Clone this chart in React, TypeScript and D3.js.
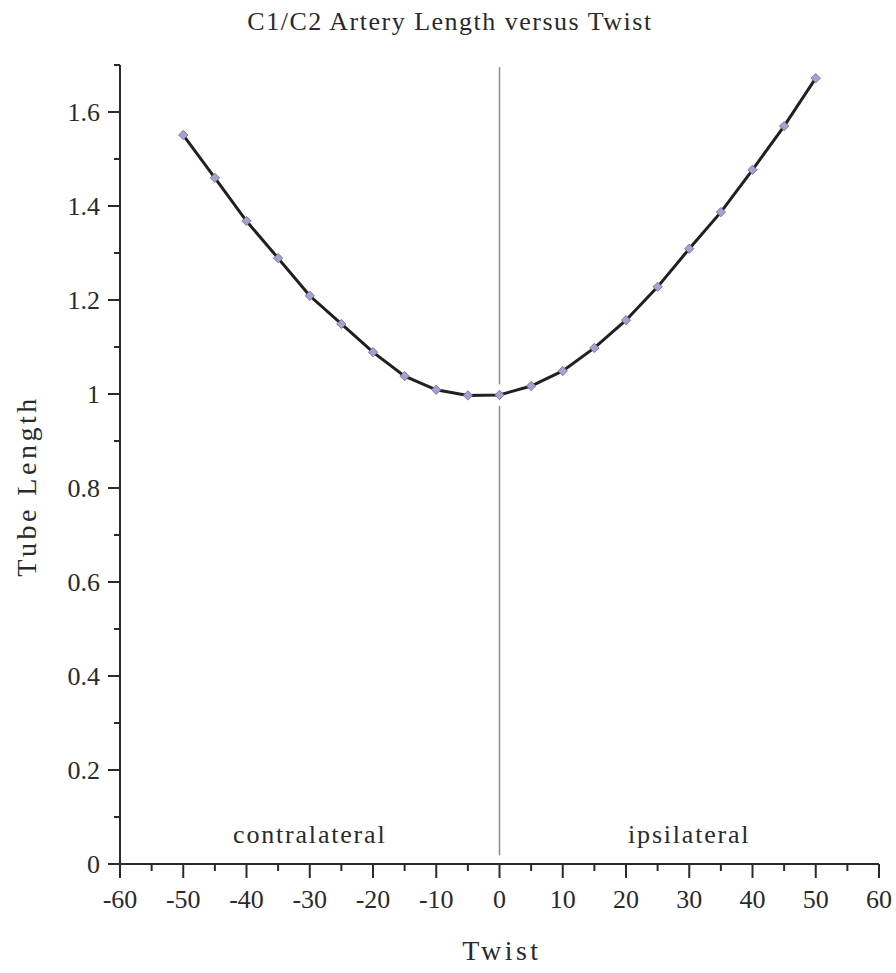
import React from 'react';
import * as d3 from 'd3';

const twist = [-50, -45, -40, -35, -30, -25, -20, -15, -10, -5, 0, 5, 10, 15, 20, 25, 30, 35, 40, 45, 50];
const tubeLength = [1.551, 1.46, 1.368, 1.289, 1.209, 1.149, 1.089, 1.038, 1.009, 0.997, 0.998, 1.017, 1.049, 1.098, 1.157, 1.228, 1.309, 1.387, 1.477, 1.57, 1.672];
const xTicks = [-60, -50, -40, -30, -20, -10, 0, 10, 20, 30, 40, 50, 60];
const yTicks = [0, 0.2, 0.4, 0.6, 0.8, 1, 1.2, 1.4, 1.6];
// divider at twist = 0, broken where it meets the curve
const dividerSpans = [[1.695, 1.02], [0.975, 0.018]];
const regionLabels = [
  { text: 'contralateral', x: -30 },
  { text: 'ipsilateral', x: 30 },
];

const W = 896;
const H = 973;
const margin = { top: 65, right: 17, bottom: 109, left: 120 };
const FONT = '"Liberation Serif", "DejaVu Serif", serif';
const INK = '#2a2a2a';

export default function App() {
  const innerW = W - margin.left - margin.right;
  const innerH = H - margin.top - margin.bottom;

  const x = d3.scaleLinear().domain([-60, 60]).range([0, innerW]);
  const y = d3.scaleLinear().domain([0, 1.7]).range([innerH, 0]);

  const points = twist.map((t, i) => ({ t, v: tubeLength[i] }));
  const line = d3.line<{ t: number; v: number }>().x(d => x(d.t)).y(d => y(d.v));

  const xMinor = d3.range(-55, 60, 10);
  const yMinor = d3.range(0.1, 1.71, 0.2);

  return (
    <svg width={W} height={H} style={{ display: 'block', position: 'absolute', left: 0, top: 0, background: '#fff' }}>
      <text x={450} y={30} textAnchor="middle" fontFamily={FONT} fontSize={26} fill={INK} letterSpacing={1.5}>
        C1/C2 Artery Length versus Twist
      </text>
      <g transform={`translate(${margin.left},${margin.top})`}>
        {/* divider */}
        {dividerSpans.map(([a, b], i) => (
          <line key={i} x1={x(0)} x2={x(0)} y1={y(a)} y2={y(b)} stroke="#8a8a8a" strokeWidth={1.5} />
        ))}

        {/* region labels */}
        {regionLabels.map(r => (
          <text key={r.text} x={x(r.x)} y={y(0.045)} textAnchor="middle" fontFamily={FONT} fontSize={26} fill={INK} letterSpacing={1.8}>
            {r.text}
          </text>
        ))}

        {/* curve */}
        <path d={line(points) || ''} fill="none" stroke="#231f20" strokeWidth={3} />
        {points.map(p => (
          <rect key={p.t} x={-3.3} y={-3.3} width={6.6} height={6.6}
            transform={`translate(${x(p.t)},${y(p.v)}) rotate(45)`}
            fill="#a3a3cf" stroke="#6e6e96" strokeWidth={0.8} />
        ))}

        {/* x axis */}
        <line x1={0} x2={innerW} y1={innerH} y2={innerH} stroke={INK} strokeWidth={2} />
        {xTicks.map(t => (
          <g key={t} transform={`translate(${x(t)},${innerH})`}>
            <line y1={0} y2={14} stroke={INK} strokeWidth={2} />
            <text y={44} textAnchor="middle" fontFamily={FONT} fontSize={26} fill={INK}>
              {t < 0 ? `-${Math.abs(t)}` : t}
            </text>
          </g>
        ))}
        {xMinor.map(t => (
          <line key={t} x1={x(t)} x2={x(t)} y1={innerH} y2={innerH + 7} stroke={INK} strokeWidth={2} />
        ))}

        {/* y axis */}
        <line x1={0} x2={0} y1={0} y2={innerH} stroke={INK} strokeWidth={2} />
        {yTicks.map(t => (
          <g key={t} transform={`translate(0,${y(t)})`}>
            <line x1={-12} x2={0} stroke={INK} strokeWidth={2} />
            <text x={-20} dy="0.35em" textAnchor="end" fontFamily={FONT} fontSize={26} fill={INK}>
              {t}
            </text>
          </g>
        ))}
        {yMinor.map(t => (
          <line key={t} x1={-6} x2={0} y1={y(t)} y2={y(t)} stroke={INK} strokeWidth={2} />
        ))}
      </g>

      <text x={502} y={960} textAnchor="middle" fontFamily={FONT} fontSize={28} fill={INK} letterSpacing={3.5}>
        Twist
      </text>
      <text transform="translate(36,486) rotate(-90)" textAnchor="middle" fontFamily={FONT} fontSize={28} fill={INK} letterSpacing={3.5}>
        Tube Length
      </text>
    </svg>
  );
}
